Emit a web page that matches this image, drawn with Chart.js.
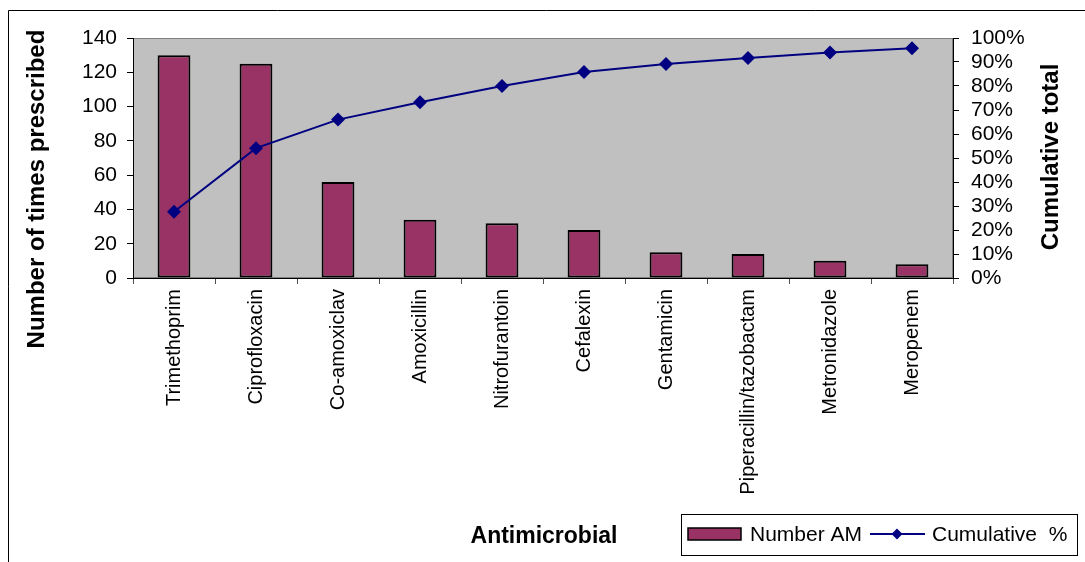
<!DOCTYPE html>
<html>
<head>
<meta charset="utf-8">
<script src="https://cdn.jsdelivr.net/npm/chart.js@4.4.1/dist/chart.umd.min.js"></script>
<style>
  html, body { margin: 0; padding: 0; background: #fff; }
  #wrap { width: 1085px; height: 562px; position: relative; }
</style>
</head>
<body>
<div id="wrap"><canvas id="c" width="1085" height="562"></canvas></div>
<script>
const categories = ['Trimethoprim', 'Ciprofloxacin', 'Co-amoxiclav', 'Amoxicillin', 'Nitrofurantoin',
  'Cefalexin', 'Gentamicin', 'Piperacillin/tazobactam', 'Metronidazole', 'Meropenem'];
const numberAM = [130, 125, 56, 34, 32, 28, 15, 14, 10, 8];
const cumulativePct = [27.6, 54.1, 66.0, 73.2, 80.0, 85.8, 89.2, 91.7, 94.0, 95.7];
const leftTicks = [0, 20, 40, 60, 80, 100, 120, 140];
const rightTicks = [0, 10, 20, 30, 40, 50, 60, 70, 80, 90, 100];

const FONT = "'Liberation Sans', Arial, sans-serif";
const BAR_COLOR = '#993366';
const LINE_COLOR = '#000080';
const PLOT_BG = '#C0C0C0';

const deco = {
  id: 'deco',
  beforeDraw(chart) {
    const { ctx, chartArea: a } = chart;
    ctx.save();
    ctx.fillStyle = '#fff';
    ctx.fillRect(0, 0, chart.width, chart.height);
    ctx.fillStyle = PLOT_BG;
    ctx.fillRect(a.left, a.top, a.right - a.left, a.bottom - a.top);
    ctx.strokeStyle = '#808080';
    ctx.lineWidth = 1;
    ctx.strokeRect(a.left + 0.5, a.top + 0.5, a.right - a.left - 1, a.bottom - a.top - 1);
    ctx.strokeStyle = '#000';
    ctx.beginPath();
    ctx.moveTo(8.5, chart.height);
    ctx.lineTo(8.5, 10.5);
    ctx.lineTo(chart.width, 10.5);
    ctx.stroke();
    ctx.restore();
  },
  afterDraw(chart) {
    const { ctx } = chart;
    ctx.save();
    ctx.fillStyle = '#000';
    ctx.textAlign = 'center';
    ctx.textBaseline = 'middle';
    ctx.font = 'bold 24px ' + FONT;
    ctx.save();
    ctx.translate(37, 189);
    ctx.rotate(-Math.PI / 2);
    ctx.fillText('Number of times prescribed', 0, 0);
    ctx.restore();
    ctx.save();
    ctx.translate(1051, 157);
    ctx.rotate(-Math.PI / 2);
    ctx.fillText('Cumulative total', 0, 0);
    ctx.restore();
    ctx.font = 'bold 23px ' + FONT;
    ctx.fillText('Antimicrobial', 544, 537);

    const ds = chart.data.datasets;
    const bx = 681.5, by = 514.5, bw = 396, bh = 41;
    ctx.fillStyle = '#fff';
    ctx.fillRect(bx, by, bw, bh);
    ctx.strokeStyle = '#000';
    ctx.lineWidth = 1;
    ctx.strokeRect(bx, by, bw, bh);
    const cy = 534;
    ctx.fillStyle = ds[0].backgroundColor;
    ctx.fillRect(688, 528, 53, 12);
    ctx.lineWidth = 1.5;
    ctx.strokeStyle = '#000';
    ctx.strokeRect(688, 528, 53, 12);
    ctx.fillStyle = '#000';
    ctx.font = '21px ' + FONT;
    ctx.textAlign = 'left';
    ctx.fillText(ds[0].label, 750, cy + 1);
    ctx.strokeStyle = ds[1].borderColor;
    ctx.lineWidth = 2;
    ctx.beginPath();
    ctx.moveTo(870, cy);
    ctx.lineTo(925, cy);
    ctx.stroke();
    ctx.fillStyle = ds[1].pointBackgroundColor;
    ctx.beginPath();
    ctx.moveTo(897 - 5.5, cy);
    ctx.lineTo(897, cy - 5.5);
    ctx.lineTo(897 + 5.5, cy);
    ctx.lineTo(897, cy + 5.5);
    ctx.closePath();
    ctx.fill();
    ctx.fillStyle = '#000';
    ctx.fillText(ds[1].label, 932, cy + 1);
    ctx.restore();
  }
};

new Chart(document.getElementById('c'), {
  data: {
    labels: categories,
    datasets: [
      {
        type: 'bar',
        label: 'Number AM',
        data: numberAM,
        backgroundColor: BAR_COLOR,
        borderColor: '#000',
        borderWidth: 2,
        borderSkipped: false,
        barPercentage: 0.4,
        categoryPercentage: 1.0,
        yAxisID: 'y',
        order: 2
      },
      {
        type: 'line',
        label: 'Cumulative  %',
        data: cumulativePct,
        borderColor: LINE_COLOR,
        backgroundColor: LINE_COLOR,
        pointBackgroundColor: LINE_COLOR,
        pointBorderColor: LINE_COLOR,
        borderWidth: 2,
        pointStyle: 'rectRot',
        pointRadius: 7,
        pointBorderWidth: 0,
        tension: 0,
        fill: false,
        yAxisID: 'y1',
        order: 1
      }
    ]
  },
  options: {
    responsive: false,
    animation: false,
    devicePixelRatio: 1,
    layout: { padding: { top: 38, left: 0, right: 0, bottom: 0 } },
    plugins: {
      legend: { display: false },
      tooltip: { enabled: false },
      title: { display: false }
    },
    scales: {
      x: {
        type: 'category',
        offset: true,
        grid: { display: true, drawOnChartArea: false, offset: true, tickLength: 6, color: '#505050', lineWidth: 1 },
        border: { display: true, color: '#000', width: 1 },
        ticks: {
          autoSkip: false,
          minRotation: 90,
          maxRotation: 90,
          padding: 5,
          color: '#000',
          font: { family: FONT, size: 20 }
        },
        afterFit(scale) { scale.height = 284; }
      },
      y: {
        position: 'left',
        min: 0,
        max: 140,
        afterBuildTicks(scale) { scale.ticks = leftTicks.map(v => ({ value: v })); },
        grid: { display: true, drawOnChartArea: false, tickLength: 6, color: '#000' },
        border: { display: true, color: '#000', width: 1 },
        ticks: { autoSkip: false, padding: 10, color: '#000', font: { family: FONT, size: 21 } },
        afterFit(scale) { scale.width = 133; }
      },
      y1: {
        position: 'right',
        min: 0,
        max: 100,
        afterBuildTicks(scale) { scale.ticks = rightTicks.map(v => ({ value: v })); },
        grid: { display: true, drawOnChartArea: false, tickLength: 6, color: '#000' },
        border: { display: true, color: '#000', width: 1 },
        ticks: {
          autoSkip: false,
          padding: 12,
          color: '#000',
          font: { family: FONT, size: 21 },
          callback: v => v + '%'
        },
        afterFit(scale) { scale.width = 132; }
      }
    }
  },
  plugins: [deco]
});
</script>
</body>
</html>
